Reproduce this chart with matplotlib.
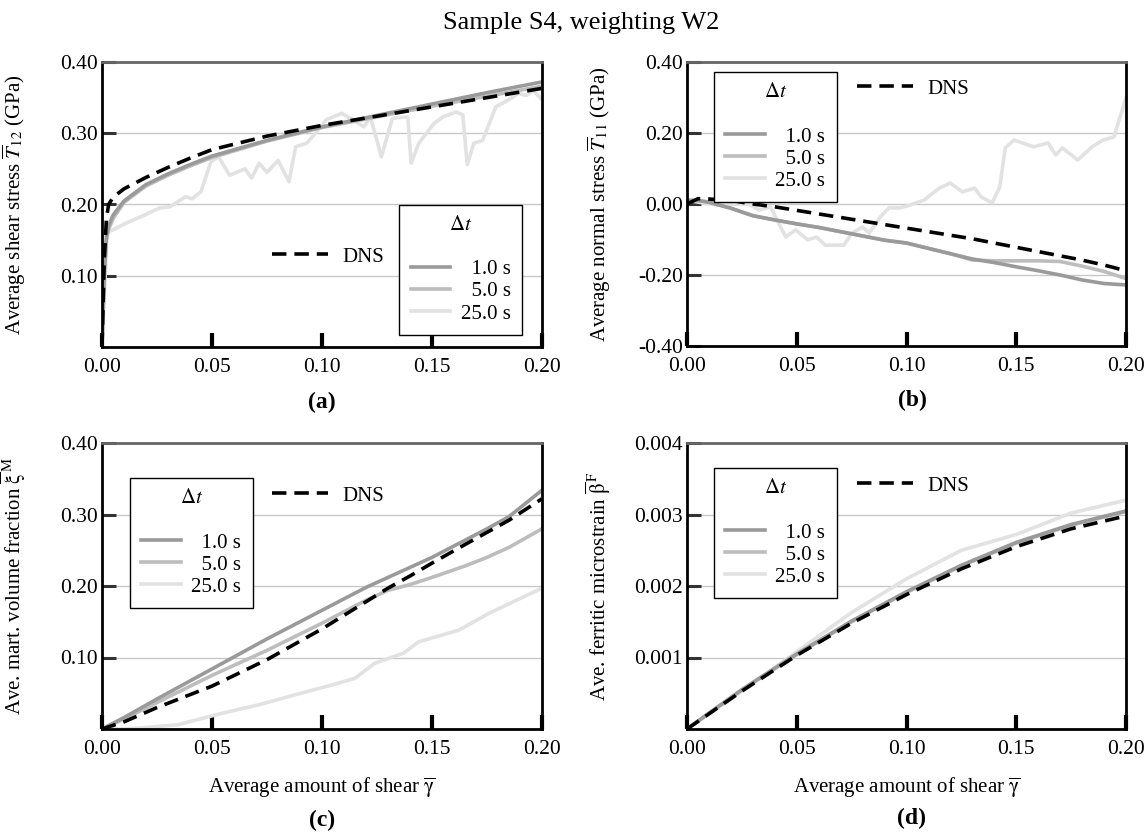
import numpy as np
import matplotlib
matplotlib.use("Agg")
import matplotlib.pyplot as plt
from matplotlib.lines import Line2D

plt.rcParams['font.family'] = ['Liberation Serif', 'DejaVu Serif']
plt.rcParams['mathtext.fontset'] = 'stix'
plt.rcParams['axes.unicode_minus'] = False
plt.rcParams['font.size'] = 15

# ---- data ----
# (a) average shear stress
a_x = [0, 0.001, 0.002, 0.003, 0.005, 0.01, 0.02, 0.03, 0.04, 0.05, 0.075, 0.1, 0.125, 0.15, 0.175, 0.2]
a_dns = [0, 0.12, 0.18, 0.20, 0.21, 0.222, 0.238, 0.252, 0.265, 0.277, 0.296, 0.311, 0.324, 0.337, 0.350, 0.363]
a_1s = [0, 0.10, 0.155, 0.17, 0.185, 0.205, 0.228, 0.243, 0.256, 0.268, 0.290, 0.309, 0.325, 0.341, 0.357, 0.372]
a_5s = [0, 0.10, 0.150, 0.165, 0.180, 0.203, 0.226, 0.241, 0.254, 0.266, 0.289, 0.308, 0.323, 0.338, 0.352, 0.366]
a_x25 = [0, 0.0023, 0.011, 0.02, 0.026, 0.031, 0.038, 0.041, 0.045, 0.0495, 0.053, 0.058, 0.065, 0.068,
         0.0714, 0.075, 0.08, 0.085, 0.088, 0.093, 0.097, 0.102, 0.109, 0.114, 0.119, 0.122, 0.127, 0.132,
         0.139, 0.1405, 0.144, 0.151, 0.155, 0.161, 0.164, 0.166, 0.169, 0.173, 0.179, 0.186, 0.189, 0.193,
         0.196, 0.2]
a_25s = [0, 0.160, 0.174, 0.186, 0.195, 0.197, 0.211, 0.208, 0.218, 0.26, 0.267, 0.241, 0.25, 0.237,
         0.258, 0.245, 0.262, 0.232, 0.281, 0.286, 0.30, 0.319, 0.328, 0.319, 0.309, 0.323, 0.267, 0.321,
         0.323, 0.258, 0.286, 0.314, 0.323, 0.330, 0.326, 0.256, 0.286, 0.29, 0.337, 0.349, 0.356, 0.353,
         0.360, 0.347]

# (b) average normal stress
b_x = [0, 0.005, 0.01, 0.02, 0.03, 0.04, 0.05, 0.06, 0.07, 0.08, 0.09, 0.1, 0.11, 0.12, 0.13, 0.14,
       0.15, 0.16, 0.17, 0.18, 0.19, 0.2]
b_dns = [0.0, 0.015, 0.014, 0.01, 0.0, -0.008, -0.018, -0.028, -0.038, -0.048, -0.058, -0.068, -0.078,
         -0.088, -0.098, -0.11, -0.122, -0.134, -0.146, -0.158, -0.172, -0.188]
b_1s = [0.01, 0.01, 0.005, -0.012, -0.033, -0.045, -0.056, -0.066, -0.078, -0.09, -0.102, -0.11, -0.125,
        -0.14, -0.155, -0.165, -0.177, -0.188, -0.2, -0.214, -0.224, -0.228]
b_5s = [0.01, 0.01, 0.005, -0.012, -0.033, -0.045, -0.056, -0.066, -0.078, -0.09, -0.102, -0.11, -0.125,
        -0.14, -0.158, -0.16, -0.16, -0.16, -0.162, -0.175, -0.19, -0.21]
b_x25 = [0, 0.014, 0.028, 0.033, 0.038, 0.045, 0.0495, 0.055, 0.059, 0.063, 0.0715, 0.075, 0.080, 0.083,
         0.088, 0.092, 0.097, 0.1015, 0.108, 0.115, 0.12, 0.1255, 0.131, 0.134, 0.139, 0.1425, 0.145,
         0.149, 0.158, 0.1645, 0.168, 0.171, 0.178, 0.1845, 0.1895, 0.1945, 0.2]
b_25s = [0.01, -0.003, 0.0, -0.017, -0.008, -0.093, -0.073, -0.101, -0.093, -0.116, -0.116, -0.082,
         -0.065, -0.082, -0.037, -0.011, -0.011, -0.003, 0.011, 0.045, 0.059, 0.034, 0.045, 0.020, 0.003,
         0.048, 0.158, 0.18, 0.161, 0.172, 0.138, 0.158, 0.124, 0.161, 0.18, 0.189, 0.299]

# (c) martensite volume fraction
c_x = [0, 0.01, 0.025, 0.05, 0.075, 0.1, 0.12, 0.13, 0.14, 0.15, 0.165, 0.175, 0.185, 0.2]
c_dns = [0, 0.01, 0.03, 0.06, 0.097, 0.14, 0.178, 0.197, 0.214, 0.232, 0.258, 0.275, 0.292, 0.322]
c_1s = [0, 0.016, 0.042, 0.084, 0.126, 0.166, 0.198, 0.212, 0.226, 0.24, 0.264, 0.28, 0.297, 0.334]
c_5s = [0, 0.014, 0.037, 0.075, 0.11, 0.148, 0.18, 0.194, 0.202, 0.212, 0.228, 0.24, 0.254, 0.28]
c_x25 = [0, 0.01, 0.02, 0.0345, 0.0545, 0.0715, 0.088, 0.105, 0.115, 0.124, 0.137, 0.144, 0.162, 0.176, 0.2]
c_25s = [0, 0.0, 0.002, 0.006, 0.022, 0.034, 0.048, 0.062, 0.071, 0.092, 0.106, 0.122, 0.138, 0.162, 0.197]

# (d) ferritic microstrain
d_x = [0, 0.025, 0.05, 0.075, 0.1, 0.125, 0.15, 0.175, 0.2]
d_dns = [0, 0.00053, 0.00103, 0.00148, 0.00188, 0.00224, 0.00255, 0.0028, 0.00298]
d_1s = [0, 0.00055, 0.00105, 0.00151, 0.00192, 0.00229, 0.00261, 0.00286, 0.00305]
d_5s = [0, 0.00055, 0.00104, 0.0015, 0.00191, 0.00228, 0.0026, 0.00285, 0.00304]
d_25s = [0, 0.00053, 0.00108, 0.00163, 0.0021, 0.0025, 0.00272, 0.00302, 0.0032]

dt_labels = ['  1.0 s', '  5.0 s', '25.0 s']
grey = ['#9a9a9a', '#bdbdbd', '#e2e2e2']

W, H = 1148, 833
fig = plt.figure(figsize=(W / 100, H / 100), dpi=100)


def box(x0, x1, y0, y1):
    return [x0 / W, 1 - y1 / H, (x1 - x0) / W, (y1 - y0) / H]


panels = [
    dict(rect=box(102, 542, 62, 347), ylim=(0, 0.4), yt=[0.1, 0.2, 0.3, 0.4], fmt='%.2f',
         ylabel=r'Average shear stress $\overline{T}_{12}$ (GPa)',
         x=[a_x, a_x, a_x25, a_x], y=[a_1s, a_5s, a_25s, a_dns],
         leg=('lower right', (0.955, 0.042)), dns=(0.386, 0.316), letter='(a)', lx=322, ly=402, xlabel=False),
    dict(rect=box(687, 1126, 62, 346), ylim=(-0.4, 0.4), yt=[-0.4, -0.2, 0.0, 0.2, 0.4], fmt='%.2f',
         ylabel=r'Average normal stress $\overline{T}_{11}$ (GPa)',
         x=[b_x, b_x, b_x25, b_x], y=[b_1s, b_5s, b_25s, b_dns],
         leg=('upper left', (0.0615, 0.965)), dns=(0.387, 0.905), letter='(b)', lx=912, ly=400, xlabel=False),
    dict(rect=box(102, 542, 443, 729), ylim=(0, 0.4), yt=[0.1, 0.2, 0.3, 0.4], fmt='%.2f',
         ylabel=r'Ave. mart. volume fraction $\overline{\mathrm{\xi}}^{\,\mathrm{M}}$',
         x=[c_x, c_x, c_x25, c_x], y=[c_1s, c_5s, c_25s, c_dns],
         leg=('upper left', (0.0636, 0.878)), dns=(0.386, 0.815), letter='(c)', lx=322, ly=820, xlabel=True),
    dict(rect=box(687, 1126, 443, 729), ylim=(0, 0.004), yt=[0.001, 0.002, 0.003, 0.004], fmt='%.3f',
         ylabel=r'Ave. ferritic microstrain $\overline{\mathrm{\beta}}^{\,\mathrm{F}}$',
         x=[d_x, d_x, d_x, d_x], y=[d_1s, d_5s, d_25s, d_dns],
         leg=('upper left', (0.0615, 0.913)), dns=(0.387, 0.85), letter='(d)', lx=912, ly=818, xlabel=True),
]

for p in panels:
    ax = fig.add_axes(p['rect'])
    xs, ys = p['x'], p['y']
    h25, = ax.plot(xs[2], ys[2], color=grey[2], lw=2.6, solid_joinstyle='round')
    h5, = ax.plot(xs[1], ys[1], color=grey[1], lw=2.6)
    h1, = ax.plot(xs[0], ys[0], color=grey[0], lw=2.6)
    hd, = ax.plot(xs[3], ys[3], color='black', lw=2.6, dashes=(4, 2.2))

    ax.set_xlim(0, 0.2)
    ax.set_ylim(*p['ylim'])
    ax.set_xticks([0, 0.05, 0.1, 0.15, 0.2])
    ax.set_yticks(p['yt'])
    ax.xaxis.set_major_formatter(matplotlib.ticker.FormatStrFormatter('%.2f'))
    ax.yaxis.set_major_formatter(matplotlib.ticker.FormatStrFormatter(p['fmt']))
    ax.tick_params(axis='x', direction='in', length=10, width=3, color='black', pad=8, labelsize=15.5)
    ax.tick_params(axis='y', direction='in', length=10, width=2.2, color='#333333', pad=3, labelsize=15.5)
    ax.grid(axis='y', color='#c8c8c8', lw=1)
    ax.set_axisbelow(True)
    for s in ['left', 'bottom', 'right']:
        ax.spines[s].set_linewidth(2)
        ax.spines[s].set_color('black')
    ax.spines['top'].set_linewidth(2)
    ax.spines['top'].set_color('#666666')

    ax.set_ylabel(p['ylabel'], fontsize=15)
    ax.yaxis.set_label_coords(-0.168, 0.5)
    if p['xlabel']:
        ax.set_xlabel(r'Average amount of shear $\overline{\mathrm{\gamma}}$', fontsize=15, labelpad=12)

    spacer = Line2D([], [], color='none')
    leg = ax.legend([spacer, h1, h5, h25], [''] + dt_labels, title=r'$\Delta t$',
                    loc=p['leg'][0], bbox_to_anchor=p['leg'][1], borderaxespad=0,
                    fancybox=False, edgecolor='black', framealpha=1, fontsize=15, title_fontsize=15,
                    handlelength=1.9, handletextpad=0.5, labelspacing=0.12, borderpad=0.55)
    leg.get_frame().set_linewidth(1.0)
    ax.add_artist(leg)
    ax.legend([hd], ['DNS'], loc='center left', bbox_to_anchor=p['dns'], borderaxespad=0,
              frameon=False, fontsize=15, handlelength=2.7, handletextpad=0.7, borderpad=0)

    fig.text(p['lx'] / W, 1 - p['ly'] / H, p['letter'], ha='center', va='center',
             fontsize=17, fontweight='bold')

fig.text(581 / W, 1 - 23 / H, 'Sample S4, weighting W2', ha='center', va='center', fontsize=19)

fig.savefig('out.png', dpi=100)
